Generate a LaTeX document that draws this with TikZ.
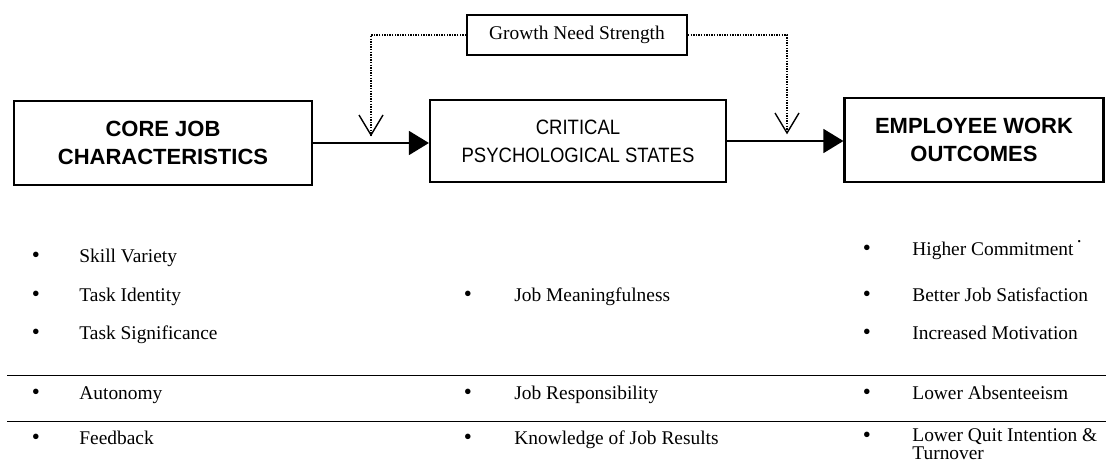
\documentclass[tikz,border=0pt]{standalone}
\usepackage{fontspec}
\setmainfont{Liberation Serif}
\newfontfamily\arialf{Liberation Sans}
\newfontfamily\arialn{Liberation Sans}[FakeStretch=0.89]
\usetikzlibrary{arrows.meta,calc}
\begin{document}
\begin{tikzpicture}[x=0.5pt,y=-0.5pt,
  box/.style={draw, line width=1.1pt, inner sep=0pt, align=center,
    font=\arialf\bfseries\fontsize{11}{14}\selectfont},
  regbox/.style={box, font=\arialn\fontsize{10.4}{14}\selectfont},
  gbox/.style={draw, line width=0.9pt, inner sep=0pt, minimum width=110pt,
    minimum height=20pt, font=\fontsize{9.7}{11}\selectfont},
  conn/.style={line width=0.8pt, -{Triangle[length=10pt,width=12pt]}},
  dotline/.style={line width=0.7pt, dash pattern=on 0.7pt off 0.6pt},
  vtip/.style={line width=0.7pt},
  sep/.style={line width=0.5pt},
  bul/.style={anchor=base, inner sep=0pt, font=\fontsize{11.5}{12}\selectfont},
  item/.style={anchor=base west, inner sep=0pt, font=\fontsize{9.7}{11}\selectfont},
  item2/.style={anchor=north west, inner sep=0pt, align=left, font=\fontsize{9.7}{9}\selectfont}
]
\useasboundingbox (0,0) rectangle (1106,464);

% top boxes
\node[gbox] (gns) at (577,35) {Growth Need Strength};
\node[box, minimum width=149pt, minimum height=42pt] (core) at (163,143) {CORE JOB\\CHARACTERISTICS};
\node[regbox, minimum width=148pt, minimum height=41pt] (crit) at (578,141) {CRITICAL\\PSYCHOLOGICAL STATES};
\node[box, minimum width=129.5pt, minimum height=42pt] (emp) at (974,140) {EMPLOYEE WORK\\OUTCOMES};

% main arrows
\draw[conn] (core.east) -- (core.east -| crit.west);
\draw[conn] (crit.east) -- (crit.east -| emp.west);

% moderator lines
\coordinate (v1) at (371,135);
\coordinate (v2) at (787,133);
\draw[dotline] (gns.west) -| (v1);
\draw[dotline] (gns.east) -| (v2);
\draw[vtip] ($(v1)+(-12,-20)$) -- (v1) -- ($(v1)+(12,-20)$);
\draw[vtip] ($(v2)+(-12,-20)$) -- (v2) -- ($(v2)+(12,-20)$);

% separator lines
\coordinate (l1a) at (7,375);
\coordinate (l1b) at (1106,375);
\coordinate (l2a) at (7,421);
\coordinate (l2b) at (1106,421);
\draw[sep] (l1a) -- (l1b);
\draw[sep] (l2a) -- (l2b);

% left column
\node[bul] (b11) at (36,263) {\textbullet};
\node[item] (t11) at (79,263) {Skill Variety};
\node[bul] (b12) at (36,301) {\textbullet};
\node[item] (t12) at (79,301) {Task Identity};
\node[bul] (b13) at (36,339) {\textbullet};
\node[item] (t13) at (79,339) {Task Significance};
\node[bul] (b14) at (36,399) {\textbullet};
\node[item] (t14) at (79,399) {Autonomy};
\node[bul] (b15) at (36,444) {\textbullet};
\node[item] (t15) at (79,444) {Feedback};

% middle column
\node[bul] (b21) at (468,301) {\textbullet};
\node[item] (t21) at (514,301) {Job Meaningfulness};
\node[bul] (b22) at (468,399) {\textbullet};
\node[item] (t22) at (514,399) {Job Responsibility};
\node[bul] (b23) at (468,444) {\textbullet};
\node[item] (t23) at (514,444) {Knowledge of Job Results};

% right column
\node[bul] (b31) at (867,256) {\textbullet};
\node[item] (t31) at (912,256) {Higher Commitment\,\raisebox{6.5pt}{.}};
\node[bul] (b32) at (867,301) {\textbullet};
\node[item] (t32) at (912,301) {Better Job Satisfaction};
\node[bul] (b33) at (867,339) {\textbullet};
\node[item] (t33) at (912,339) {Increased Motivation};
\node[bul] (b34) at (867,399) {\textbullet};
\node[item] (t34) at (912,399) {Lower Absenteeism};
\node[bul] (b35) at (867,442) {\textbullet};
\node[item2] (t35) at (912,428) {Lower Quit Intention \&\\Turnover};
\end{tikzpicture}
\end{document}
